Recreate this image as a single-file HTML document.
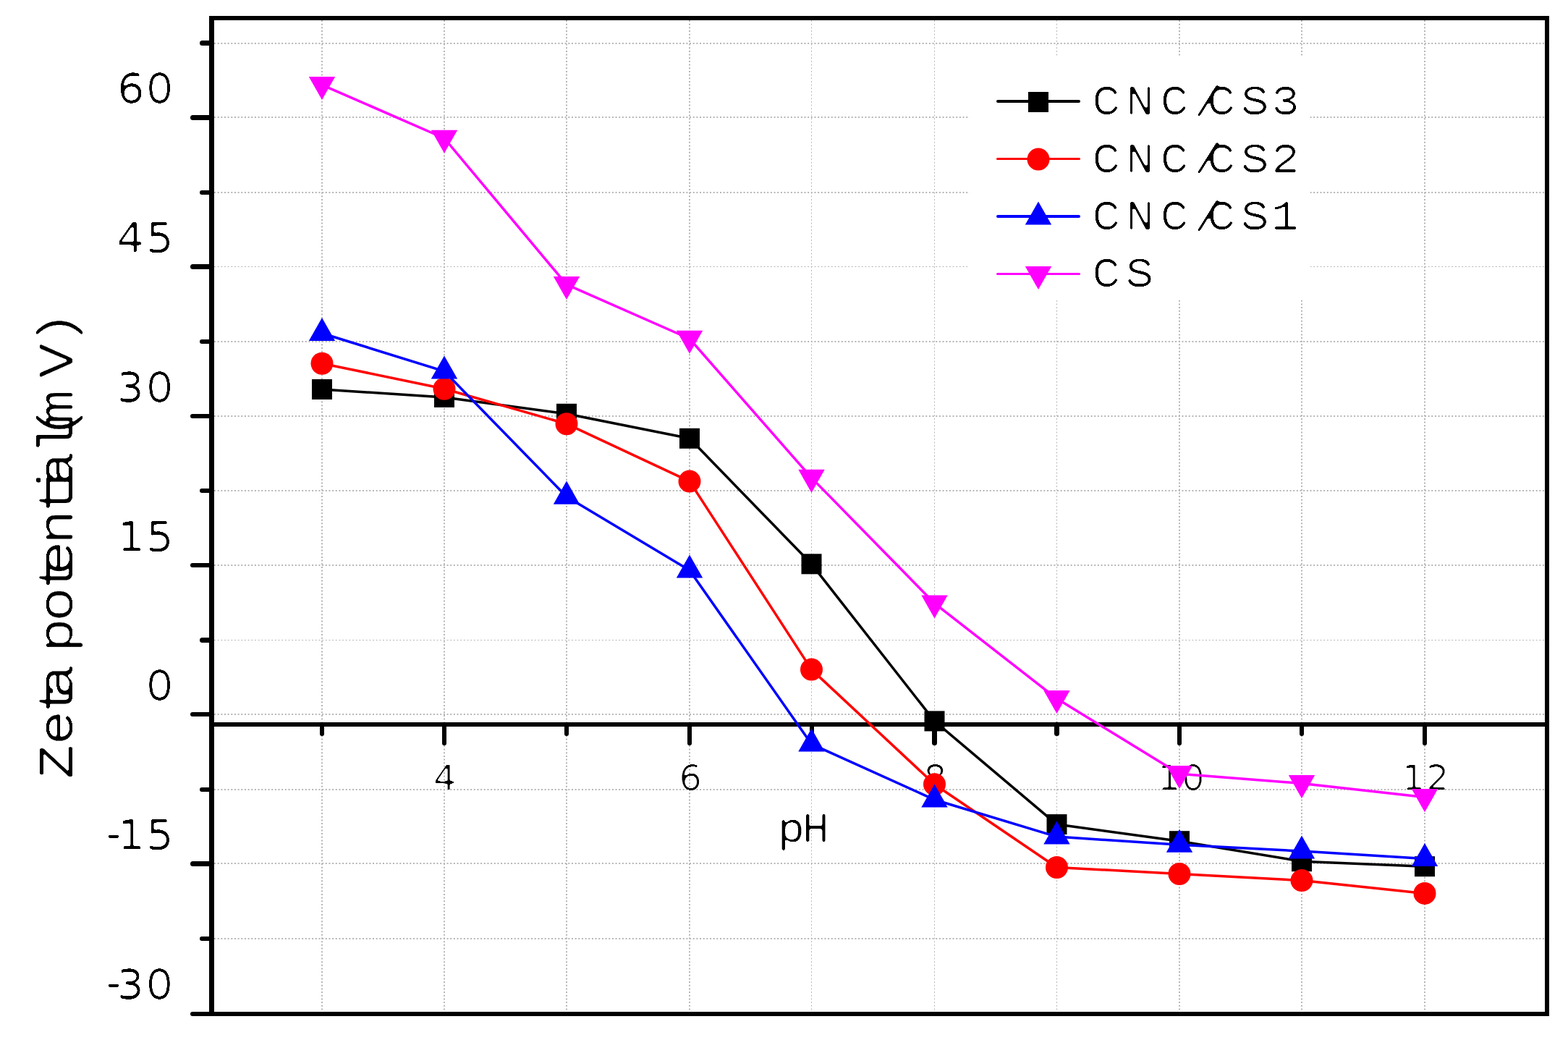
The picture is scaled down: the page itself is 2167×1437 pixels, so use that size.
<!DOCTYPE html>
<html lang="en"><head><meta charset="utf-8"><title>Zeta potential vs pH</title>
<style>
html,body{margin:0;padding:0;background:#fff;}
body{width:2167px;height:1437px;overflow:hidden;}
svg{display:block;}
text{fill:#000;white-space:pre;}
text.m{font-family:'Liberation Mono','DejaVu Sans Mono',monospace;}
text.d{font-family:'DejaVu Sans','Liberation Sans',sans-serif;}
</style></head><body>
<svg width="2167" height="1437" viewBox="0 0 2167 1437">
<defs>
<filter id="f-yt" x="-10%" y="-10%" width="120%" height="120%" color-interpolation-filters="sRGB"><feGaussianBlur stdDeviation="0.935 1"/><feComponentTransfer><feFuncA type="linear" slope="6" intercept="-2.8"/></feComponentTransfer><feGaussianBlur stdDeviation="0.935 0"/><feComponentTransfer><feFuncA type="linear" slope="6" intercept="-4"/></feComponentTransfer></filter>
<filter id="f-xt" x="-10%" y="-10%" width="120%" height="120%" color-interpolation-filters="sRGB"><feGaussianBlur stdDeviation="0.980 1"/><feComponentTransfer><feFuncA type="linear" slope="6" intercept="-3.4"/></feComponentTransfer><feGaussianBlur stdDeviation="0.980 0"/><feComponentTransfer><feFuncA type="linear" slope="6" intercept="-3.58"/></feComponentTransfer></filter>
<filter id="f-lg" x="-10%" y="-10%" width="120%" height="120%" color-interpolation-filters="sRGB"><feGaussianBlur stdDeviation="0.847 1"/><feComponentTransfer><feFuncA type="linear" slope="6" intercept="-2.8"/></feComponentTransfer><feGaussianBlur stdDeviation="0.847 0"/><feComponentTransfer><feFuncA type="linear" slope="6" intercept="-4.18"/></feComponentTransfer></filter>
<filter id="f-xl" x="-10%" y="-10%" width="120%" height="120%" color-interpolation-filters="sRGB"><feGaussianBlur stdDeviation="0.893 1"/><feComponentTransfer><feFuncA type="linear" slope="6" intercept="-2.8"/></feComponentTransfer><feGaussianBlur stdDeviation="0.893 0"/><feComponentTransfer><feFuncA type="linear" slope="6" intercept="-3.7"/></feComponentTransfer></filter>
<filter id="f-yl" x="-10%" y="-10%" width="120%" height="120%" color-interpolation-filters="sRGB"><feGaussianBlur stdDeviation="0.847 1"/><feComponentTransfer><feFuncA type="linear" slope="6" intercept="-2.5"/></feComponentTransfer><feGaussianBlur stdDeviation="0.847 0"/><feComponentTransfer><feFuncA type="linear" slope="6" intercept="-4.18"/></feComponentTransfer></filter>
</defs>
<rect x="0" y="0" width="2167" height="1437" fill="#fff"/>
<g stroke="#b6b6b6" stroke-dasharray="2 2.66" fill="none">
<line x1="445" y1="28" x2="445" y2="1398" stroke-width="2"/>
<line x1="614" y1="28" x2="614" y2="1398" stroke-width="2"/>
<line x1="783" y1="28" x2="783" y2="1398" stroke-width="2"/>
<line x1="953" y1="28" x2="953" y2="1398" stroke-width="2"/>
<line x1="1121.5" y1="28" x2="1121.5" y2="1398" stroke-width="1"/>
<line x1="1291.5" y1="28" x2="1291.5" y2="1398" stroke-width="1"/>
<line x1="1460.5" y1="28" x2="1460.5" y2="1398" stroke-width="1"/>
<line x1="1630" y1="28" x2="1630" y2="1398" stroke-width="2"/>
<line x1="1799" y1="28" x2="1799" y2="1398" stroke-width="2"/>
<line x1="1969" y1="28" x2="1969" y2="1398" stroke-width="2"/>
<line x1="296" y1="1297" x2="2135" y2="1297" stroke-width="2"/>
<line x1="296" y1="1193" x2="2135" y2="1193" stroke-width="2"/>
<line x1="296" y1="1091" x2="2135" y2="1091" stroke-width="2"/>
<line x1="296" y1="987" x2="2135" y2="987" stroke-width="2"/>
<line x1="296" y1="884.5" x2="2135" y2="884.5" stroke-width="1"/>
<line x1="296" y1="781" x2="2135" y2="781" stroke-width="2"/>
<line x1="296" y1="678" x2="2135" y2="678" stroke-width="2"/>
<line x1="296" y1="575" x2="2135" y2="575" stroke-width="2"/>
<line x1="296" y1="472" x2="2135" y2="472" stroke-width="2"/>
<line x1="296" y1="368.5" x2="2135" y2="368.5" stroke-width="1"/>
<line x1="296" y1="266" x2="2135" y2="266" stroke-width="2"/>
<line x1="296" y1="162" x2="2135" y2="162" stroke-width="2"/>
<line x1="296" y1="60" x2="2135" y2="60" stroke-width="2"/>
</g>
<rect x="1339.5" y="77.5" width="471" height="337" fill="#fff"/>
<g fill="#000">
<rect x="289" y="22" width="7" height="1382"/>
<rect x="289" y="22" width="1852" height="6"/>
<rect x="2135" y="22" width="6" height="1382"/>
<rect x="283" y="1398" width="1858" height="6"/>
<rect x="289" y="998" width="1852" height="6"/>
</g>
<g stroke="#000" stroke-linecap="round" fill="none">
<line x1="266" y1="1401" x2="292.5" y2="1401" stroke-width="6"/>
<line x1="279" y1="1297" x2="292.5" y2="1297" stroke-width="6"/>
<line x1="266.5" y1="1193.5" x2="292.5" y2="1193.5" stroke-width="7"/>
<line x1="279" y1="1091" x2="292.5" y2="1091" stroke-width="6"/>
<line x1="266" y1="987" x2="292.5" y2="987" stroke-width="6"/>
<line x1="279.5" y1="884.5" x2="292.5" y2="884.5" stroke-width="7"/>
<line x1="266" y1="781" x2="292.5" y2="781" stroke-width="6"/>
<line x1="279" y1="678" x2="292.5" y2="678" stroke-width="6"/>
<line x1="266" y1="575" x2="292.5" y2="575" stroke-width="6"/>
<line x1="279" y1="472" x2="292.5" y2="472" stroke-width="6"/>
<line x1="266.5" y1="368.5" x2="292.5" y2="368.5" stroke-width="7"/>
<line x1="279" y1="266" x2="292.5" y2="266" stroke-width="6"/>
<line x1="266.5" y1="162.5" x2="292.5" y2="162.5" stroke-width="7"/>
<line x1="279.5" y1="59.5" x2="292.5" y2="59.5" stroke-width="7"/>
<line x1="445" y1="1001" x2="445" y2="1014" stroke-width="6"/>
<line x1="614" y1="1001" x2="614" y2="1027" stroke-width="6"/>
<line x1="783" y1="1001" x2="783" y2="1014" stroke-width="6"/>
<line x1="953" y1="1001" x2="953" y2="1027" stroke-width="6"/>
<line x1="1122" y1="1001" x2="1122" y2="1014" stroke-width="6"/>
<line x1="1291.5" y1="1001" x2="1291.5" y2="1026.5" stroke-width="7"/>
<line x1="1460.5" y1="1001" x2="1460.5" y2="1013.5" stroke-width="7"/>
<line x1="1630" y1="1001" x2="1630" y2="1027" stroke-width="6"/>
<line x1="1799" y1="1001" x2="1799" y2="1014" stroke-width="6"/>
<line x1="1969" y1="1001" x2="1969" y2="1027" stroke-width="6"/>
</g>
<text class="d" transform="translate(0 142.8) scale(1.07 1)" x="150.88 188.05" font-size="57" filter="url(#f-yt)">60</text>
<text class="d" transform="translate(0 348.8) scale(1.07 1)" x="150.3 188.23" font-size="57" filter="url(#f-yt)">45</text>
<text class="d" transform="translate(0 555.9) scale(1.07 1)" x="150.16 188.05" font-size="57" filter="url(#f-yt)">30</text>
<text class="d" transform="translate(0 762) scale(1.07 1)" x="151.27 188.28" font-size="57" filter="url(#f-yt)">15</text>
<text class="d" transform="translate(0 967.9) scale(1.07 1)" x="188.05" font-size="57" filter="url(#f-yt)">0</text>
<text class="d" transform="translate(0 1174.4) scale(1.07 1)" x="136.54 151.46 188.33" dy="-3.6 3.6 0" font-size="57" filter="url(#f-yt)">-15</text>
<text class="d" transform="translate(0 1380.7) scale(1.07 1)" x="136.54 150.34 187.82" dy="-3.6 3.6 0" font-size="57" filter="url(#f-yt)">-30</text>
<text class="d" transform="translate(0 1091.9) scale(1.02 1)" x="586.68" font-size="50" filter="url(#f-xt)">4</text>
<text class="d" transform="translate(0 1091.9) scale(1.02 1)" x="919.66" font-size="50" filter="url(#f-xt)">6</text>
<text class="d" transform="translate(0 1091.9) scale(1.02 1)" x="1251.26" font-size="50" filter="url(#f-xt)">8</text>
<text class="d" transform="translate(0 1091.9) scale(1.02 1)" x="1568.07 1600.68" font-size="50" filter="url(#f-xt)">10</text>
<text class="d" transform="translate(0 1091.9) scale(1.02 1)" x="1899.34 1931.92" font-size="50" filter="url(#f-xt)">12</text>
<text class="m" transform="translate(0 1163.3) scale(1.12 1)" x="959.13 989.56" font-size="57" filter="url(#f-xl)">pH</text>
<text class="m" transform="translate(100 1121.49) rotate(-90) scale(1.18 1)" x="37.77 77.49 113.63 131.7 167.84 185.91 222.05 258.19 276.26 312.4 348.54 366.61 381.04 417.18 435.58 453.25 507.4 545.52" font-size="69" filter="url(#f-yl)">Zeta potential(mV)</text>
<g>
<polyline points="445,538 614,548.9 783,571.8 953,605.8 1121.5,779.3 1291.5,996.4 1460.5,1139.1 1630,1162.2 1799,1190.2 1969,1197.2" fill="none" stroke="#000000" stroke-width="3.5" stroke-linejoin="round" stroke-linecap="round"/>
<rect x="431" y="524" width="28" height="28" fill="#000000"/>
<rect x="600" y="534.9" width="28" height="28" fill="#000000"/>
<rect x="769" y="557.8" width="28" height="28" fill="#000000"/>
<rect x="939" y="591.8" width="28" height="28" fill="#000000"/>
<rect x="1107.5" y="765.3" width="28" height="28" fill="#000000"/>
<rect x="1277.5" y="982.4" width="28" height="28" fill="#000000"/>
<rect x="1446.5" y="1125.1" width="28" height="28" fill="#000000"/>
<rect x="1616" y="1148.2" width="28" height="28" fill="#000000"/>
<rect x="1785" y="1176.2" width="28" height="28" fill="#000000"/>
<rect x="1955" y="1183.2" width="28" height="28" fill="#000000"/>
</g>
<g>
<polyline points="445,502.2 614,537.2 783,585.7 953,665.1 1121.5,925.1 1291.5,1083.7 1460.5,1198.5 1630,1207.5 1799,1216.6 1969,1234.4" fill="none" stroke="#ff0000" stroke-width="3.5" stroke-linejoin="round" stroke-linecap="round"/>
<circle cx="445" cy="502.2" r="15.5" fill="#ff0000"/>
<circle cx="614" cy="537.2" r="15.5" fill="#ff0000"/>
<circle cx="783" cy="585.7" r="15.5" fill="#ff0000"/>
<circle cx="953" cy="665.1" r="15.5" fill="#ff0000"/>
<circle cx="1121.5" cy="925.1" r="15.5" fill="#ff0000"/>
<circle cx="1291.5" cy="1083.7" r="15.5" fill="#ff0000"/>
<circle cx="1460.5" cy="1198.5" r="15.5" fill="#ff0000"/>
<circle cx="1630" cy="1207.5" r="15.5" fill="#ff0000"/>
<circle cx="1799" cy="1216.6" r="15.5" fill="#ff0000"/>
<circle cx="1969" cy="1234.4" r="15.5" fill="#ff0000"/>
</g>
<g>
<polyline points="445,460.5 614,513 783,686.2 953,788 1121.5,1028.1 1291.5,1105 1460.5,1156.1 1630,1167.3 1799,1176 1969,1186.6" fill="none" stroke="#0000ff" stroke-width="3.5" stroke-linejoin="round" stroke-linecap="round"/>
<polygon points="445,438.9 463.2,471 426.8,471" fill="#0000ff"/>
<polygon points="614,491.4 632.2,523.5 595.8,523.5" fill="#0000ff"/>
<polygon points="783,664.6 801.2,696.7 764.8,696.7" fill="#0000ff"/>
<polygon points="953,766.4 971.2,798.5 934.8,798.5" fill="#0000ff"/>
<polygon points="1121.5,1006.5 1139.7,1038.6 1103.3,1038.6" fill="#0000ff"/>
<polygon points="1291.5,1083.4 1309.7,1115.5 1273.3,1115.5" fill="#0000ff"/>
<polygon points="1460.5,1134.5 1478.7,1166.6 1442.3,1166.6" fill="#0000ff"/>
<polygon points="1630,1145.7 1648.2,1177.8 1611.8,1177.8" fill="#0000ff"/>
<polygon points="1799,1154.4 1817.2,1186.5 1780.8,1186.5" fill="#0000ff"/>
<polygon points="1969,1165 1987.2,1197.1 1950.8,1197.1" fill="#0000ff"/>
</g>
<g>
<polyline points="445,117.3 614,191 783,393.2 953,468 1121.5,660.1 1291.5,833.7 1460.5,965.3 1630,1069.2 1799,1082.4 1969,1101.4" fill="none" stroke="#ff00ff" stroke-width="3.5" stroke-linejoin="round" stroke-linecap="round"/>
<polygon points="445,138.1 463.2,106 426.8,106" fill="#ff00ff"/>
<polygon points="614,211.8 632.2,179.7 595.8,179.7" fill="#ff00ff"/>
<polygon points="783,414 801.2,381.9 764.8,381.9" fill="#ff00ff"/>
<polygon points="953,488.8 971.2,456.7 934.8,456.7" fill="#ff00ff"/>
<polygon points="1121.5,680.9 1139.7,648.8 1103.3,648.8" fill="#ff00ff"/>
<polygon points="1291.5,854.5 1309.7,822.4 1273.3,822.4" fill="#ff00ff"/>
<polygon points="1460.5,986.1 1478.7,954 1442.3,954" fill="#ff00ff"/>
<polygon points="1630,1090 1648.2,1057.9 1611.8,1057.9" fill="#ff00ff"/>
<polygon points="1799,1103.2 1817.2,1071.1 1780.8,1071.1" fill="#ff00ff"/>
<polygon points="1969,1122.2 1987.2,1090.1 1950.8,1090.1" fill="#ff00ff"/>
</g>
<line x1="1379" y1="140" x2="1491" y2="140" stroke="#000000" stroke-width="4" stroke-linecap="round"/>
<rect x="1421" y="127" width="28" height="28" fill="#000000"/>
<text class="m" transform="translate(0 158) scale(1.18 1)" x="1278.66 1318.15 1358.45 1397.82 1413.41 1452.8 1488.63" dy="0 0 0 1.9 -1.9 0 0" font-size="56.5" filter="url(#f-lg)">CNC/CS3</text>
<line x1="1378.5" y1="219.5" x2="1491.5" y2="219.5" stroke="#ff0000" stroke-width="3" stroke-linecap="round"/>
<circle cx="1435" cy="220.1" r="15.5" fill="#ff0000"/>
<text class="m" transform="translate(0 237.5) scale(1.18 1)" x="1278.66 1318.15 1358.45 1397.82 1413.41 1452.8 1488.61" dy="0 0 0 1.9 -1.9 0 0" font-size="56.5" filter="url(#f-lg)">CNC/CS2</text>
<line x1="1379" y1="299" x2="1491" y2="299" stroke="#0000ff" stroke-width="4" stroke-linecap="round"/>
<polygon points="1435,278.5 1453.2,310.6 1416.8,310.6" fill="#0000ff"/>
<text class="m" transform="translate(0 317) scale(1.18 1)" x="1278.66 1318.15 1358.45 1397.82 1413.41 1452.8 1487.92" dy="0 0 0 1.9 -1.9 0 0" font-size="56.5" filter="url(#f-lg)">CNC/CS1</text>
<line x1="1378.5" y1="378.5" x2="1491.5" y2="378.5" stroke="#ff00ff" stroke-width="3" stroke-linecap="round"/>
<polygon points="1435,400 1453.2,367.9 1416.8,367.9" fill="#ff00ff"/>
<text class="m" transform="translate(0 396.2) scale(1.18 1)" x="1278.66 1317.76" font-size="56.5" filter="url(#f-lg)">CS</text>
</svg>
</body></html>
